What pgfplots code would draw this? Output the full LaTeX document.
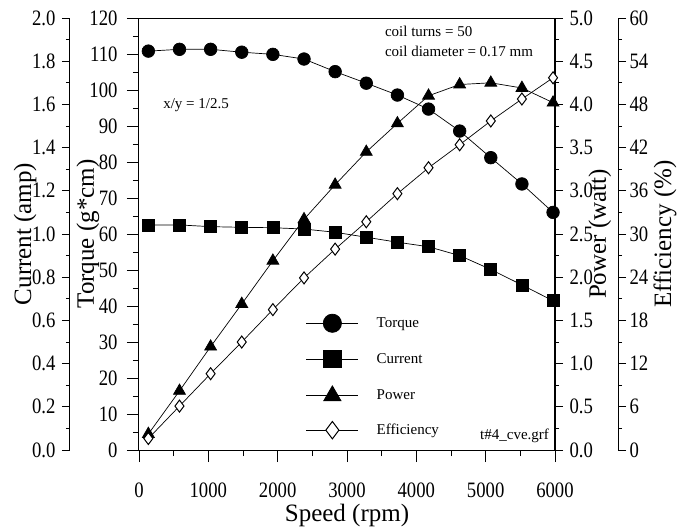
\documentclass[border=0pt]{standalone}
\usepackage{fontspec}
\setmainfont{Liberation Serif}
\newfontfamily\tickfont[FakeStretch=0.85]{Liberation Serif}
\usepackage{pgfplots}
\usepackage{pgfplotstable}
\pgfplotsset{compat=1.18}

% speed (rpm), torque (g*cm), current (amp), power (watt), efficiency (%)
\pgfplotstableread{
speed torque current power eff
135  110.8 1.042 0.185 1.6
584  111.3 1.042 0.684 6.1
1033 111.3 1.034 1.196 10.6
1482 110.5 1.031 1.69  15.0
1931 109.9 1.029 2.19  19.5
2380 108.6 1.023 2.67  23.9
2829 105.1 1.008 3.07  27.9
3278 101.9 0.985 3.45  31.7
3727 98.6  0.962 3.78  35.6
4176 94.7  0.941 4.10  39.2
4625 88.6  0.900 4.23  42.4
5074 81.2  0.836 4.25  45.7
5523 73.9  0.764 4.19  48.75
5972 66.0  0.691 4.02  51.7
}\motor

\pgfplotsset{
  base/.style={
    scale only axis, width=416pt, height=432pt,
    xmin=0, xmax=6000,
    /pgf/number format/assume math mode=true,
    tick label style={font=\tickfont\fontsize{22}{26}\selectfont},
    label style={font=\fontsize{25}{30}\selectfont},
    axis line style={-, line width=1pt},
    every tick/.style={black, line width=0.8pt},
    tick align=outside,
    major tick length=8pt, minor tick length=4pt,
  },
  onedec/.style={yticklabel style={/pgf/number format/.cd, fixed, fixed zerofill, precision=1}},
  torque style/.style={black, line width=0.7pt, mark=*, mark size=6.3pt},
  current style/.style={black, line width=0.7pt, mark=square*, mark size=6pt},
  power style/.style={black, line width=0.7pt, mark=triangle*, mark size=6.9pt},
  eff style/.style={black, line width=0.7pt, mark=diamond*, mark size=6pt, mark options={fill=white, line width=1pt}},
}
\newcommand{\notefont}{\fontsize{15}{18}\selectfont}

\begin{document}
\begin{tikzpicture}
\useasboundingbox (-139pt,-81pt) rectangle (539pt,450pt);

% torque axis (box, speed axis, left torque scale, legend)
\begin{axis}[base,
  ymin=0, ymax=120,
  xtick={0,1000,...,6000}, minor x tick num=1,
  ytick={0,10,...,120}, minor y tick num=1,
  xtick pos=left, ytick pos=left,
  major tick length=12pt, minor tick length=6pt,
  xticklabel shift=17pt, yticklabel shift=6pt,
  /pgf/number format/1000 sep={}, scaled x ticks=false,
  xlabel={Speed (rpm)}, ylabel={Torque (g*cm)},
  xlabel style={at={(axis description cs:0.5,-0.152)}, anchor=center},
  ylabel style={at={(axis description cs:-0.123,0.5)}, anchor=center},
  legend cell align=left,
  legend style={at={(rel axis cs:0.401,0.315)}, anchor=north west, draw=none, fill=none,
    inner sep=0pt, row sep=18pt, font=\notefont, nodes={inner sep=2pt},
    /tikz/every odd column/.append style={column sep=16pt}},
  legend image code/.code={\draw[mark repeat=2, mark phase=2, every mark/.append style={scale=1.45}]
    plot coordinates {(0pt,0pt) (26pt,0pt) (52pt,0pt)};},
]
\addplot[torque style] table[x=speed, y=torque]{\motor};
\addlegendimage{current style}
\addlegendimage{power style}
\addlegendimage{eff style}
\legend{Torque, Current, Power, Efficiency}
\node[anchor=west, inner sep=0pt, font=\notefont] at (rel axis cs:0.058,0.799) {x/y = 1/2.5};
\node[anchor=west, inner sep=0pt, font=\notefont] at (rel axis cs:0.591,0.968) {coil turns = 50};
\node[anchor=west, inner sep=0pt, font=\notefont] at (rel axis cs:0.591,0.922) {coil diameter = 0.17 mm};
\node[anchor=east, inner sep=0pt, font=\notefont] at (rel axis cs:0.986,0.032) {t\#4\_cve.grf};
\end{axis}

% current data
\begin{axis}[base, hide axis, ymin=0, ymax=2]
\addplot[current style] table[x=speed, y=current]{\motor};
\end{axis}

% current scale, outer left
\begin{axis}[base, onedec, at={(-69pt,0pt)},
  hide x axis, axis y line*=left, ymin=0, ymax=2,
  ytick={0,0.2,0.4,0.6,0.8,1.0,1.2,1.4,1.6,1.8,2.0}, minor y tick num=1,
  ytick pos=left, yticklabel shift=3pt,
  ylabel={Current (amp)},
  ylabel style={at={(axis description cs:-0.108,0.5)}, anchor=center},
]
\end{axis}

% power, right edge of the box
\begin{axis}[base, onedec,
  hide x axis, axis y line*=right, ymin=0, ymax=5,
  ytick={0,0.5,1.0,1.5,2.0,2.5,3.0,3.5,4.0,4.5,5.0}, minor y tick num=1,
  ytick pos=right, yticklabel pos=right, yticklabel shift=3pt,
  ylabel={Power (watt)},
  ylabel style={at={(axis description cs:1.108,0.5)}, anchor=center},
]
\addplot[power style] table[x=speed, y=power]{\motor};
\end{axis}

% efficiency data
\begin{axis}[base, hide axis, ymin=0, ymax=60]
\addplot[eff style] table[x=speed, y=eff]{\motor};
\end{axis}

% efficiency scale, outer right
\begin{axis}[base, at={(63pt,0pt)},
  hide x axis, axis y line*=right, ymin=0, ymax=60,
  ytick={0,6,...,60}, minor y tick num=1,
  ytick pos=right, yticklabel pos=right,
  ylabel={Efficiency (\%)},
  ylabel style={at={(axis description cs:1.113,0.5)}, anchor=center},
]
\end{axis}
\end{tikzpicture}
\end{document}
